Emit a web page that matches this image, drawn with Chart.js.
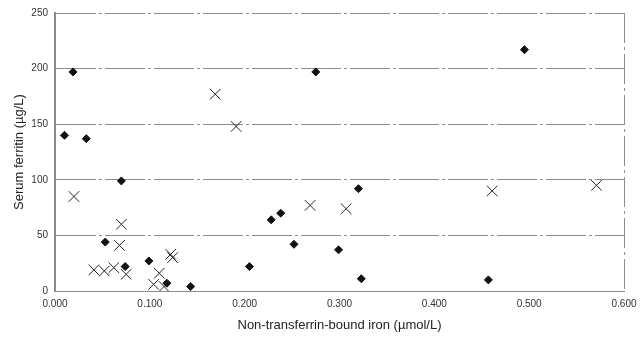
<!DOCTYPE html>
<html>
<head>
<meta charset="utf-8">
<style>
  html, body { margin: 0; padding: 0; background: #fff; }
  #wrap { width: 641px; height: 337px; }
</style>
<script src="https://cdn.jsdelivr.net/npm/chart.js@4/dist/chart.umd.min.js"></script>
</head>
<body>
<div id="wrap"><canvas id="chart" width="641" height="337"></canvas></div>
<script>
// Data
// filled diamonds
const diamondX = [0.010, 0.019, 0.033, 0.070, 0.053, 0.074, 0.099, 0.118, 0.143, 0.275, 0.320, 0.238, 0.228, 0.252, 0.299, 0.205, 0.323, 0.495, 0.457];
const diamondY = [140, 197, 137, 99, 44, 22, 27, 7, 4, 197, 92, 70, 64, 42, 37, 22, 11, 217, 10];
// crosses
const crossX = [0.169, 0.191, 0.020, 0.070, 0.068, 0.041, 0.052, 0.062, 0.075, 0.110, 0.104, 0.115, 0.122, 0.124, 0.269, 0.307, 0.461, 0.571];
const crossY = [177, 148, 85, 60, 41, 19, 18, 21, 15, 16, 6, 4, 33, 30, 77, 74, 90, 95];

// axis setup
const xMin = 0, xMax = 0.6, xStep = 0.1;
const yMin = 0, yMax = 250, yStep = 50;
const xTitle = 'Non-transferrin-bound iron (\u00b5mol/L)';
const yTitle = 'Serum ferritin (\u00b5g/L)';

function toPoints(xs, ys){ return xs.map((x,i)=>({x:x, y:ys[i]})); }

const gridGray = '#8c8c8c';
const ctx = document.getElementById('chart').getContext('2d');
const chart = new Chart(ctx, {
  type: 'scatter',
  data: {
    datasets: [
      {label:'diamonds', data: toPoints(diamondX, diamondY), pointStyle:'rectRot', pointRadius:4, pointHoverRadius:4,
       backgroundColor:'#111', borderColor:'#111', borderWidth:1},
      {label:'crosses', data: toPoints(crossX, crossY), pointStyle:'crossRot', pointRadius:7.5, pointHoverRadius:7.5,
       backgroundColor:'#222', borderColor:'#222', borderWidth:1}
    ]
  },
  options: {
    responsive:false, animation:false,
    layout:{padding:{left:0, right:17, top:13, bottom:0}},
    plugins:{legend:{display:false}, tooltip:{enabled:false}},
    scales:{
      x:{
        type:'linear', min:xMin, max:xMax,
        ticks:{stepSize:xStep, color:'#333', font:{family:'"Liberation Sans", Arial, sans-serif', size:10}, padding:7,
               callback:(v)=>Number(v).toFixed(3), maxRotation:0},
        grid:{drawTicks:false, lineWidth:1,
              color:(c)=> (c.tick && Math.abs(c.tick.value - xMax) < 1e-9) ? gridGray : 'rgba(0,0,0,0)'},
        border:{display:true, color:gridGray, width:1, dash:[30,4,3,4]},
        title:{display:true, text:xTitle, color:'#222', font:{family:'"Liberation Sans", Arial, sans-serif', size:13}, padding:{top:4, bottom:4}},
        afterFit:(s)=>{ s.height = 46; s.paddingLeft = 0; s.paddingRight = 0; }
      },
      y:{
        type:'linear', min:yMin, max:yMax,
        ticks:{stepSize:yStep, color:'#333', font:{family:'"Liberation Sans", Arial, sans-serif', size:10}, padding:7},
        grid:{drawTicks:false, color:gridGray, lineWidth:1},
        border:{display:true, color:gridGray, width:2, dash:[40,3,3,3]},
        title:{display:true, text:yTitle, color:'#222', font:{family:'"Liberation Sans", Arial, sans-serif', size:13}, padding:{top:12, bottom:4}},
        afterFit:(s)=>{ s.width = 55; s.paddingTop = 0; s.paddingBottom = 0; }
      }
    }
  }
});
</script>
</body>
</html>
